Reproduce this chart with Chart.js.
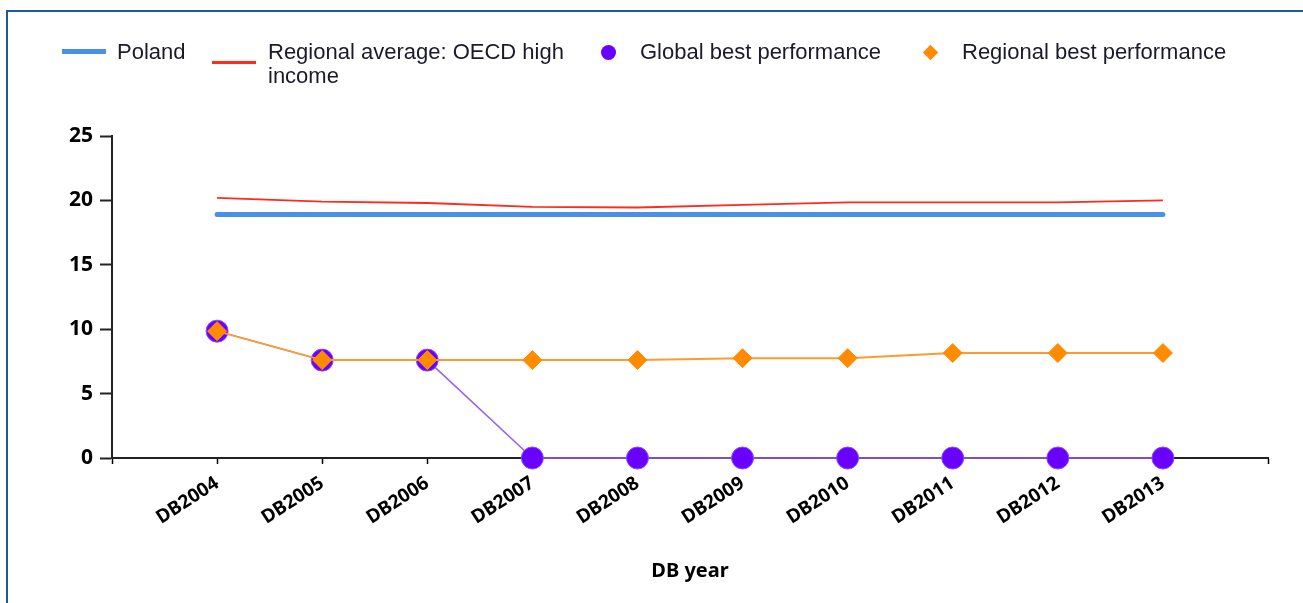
<!DOCTYPE html>
<html>
<head>
<meta charset="utf-8">
<script src="https://cdn.jsdelivr.net/npm/chart.js@4.4.1/dist/chart.umd.min.js"></script>
<style>
    html, body { margin: 0; padding: 0; background: #fff; overflow: hidden; }
    #wrap { position: relative; width: 1303px; height: 603px; }
    #frame { position: absolute; left: 6px; top: 10px; width: 1400px; height: 700px; border: 2px solid #1c5a9c; }
    #chart { position: absolute; left: 0; top: 0; }
    .lg { position: absolute; font-family: "Liberation Sans", Arial, sans-serif; font-size: 22px; line-height: 24px; color: #1a1a2a; }
    .sym { position: absolute; }
</style>
</head>
<body>
<div id="wrap">
    <div id="frame"></div>
    <canvas id="chart" width="1303" height="603"></canvas>
    <div id="legend"></div>
</div>
<script>
// Categories and series
const years = ["DB2004", "DB2005", "DB2006", "DB2007", "DB2008", "DB2009", "DB2010", "DB2011", "DB2012", "DB2013"];
const poland = [18.9, 18.9, 18.9, 18.9, 18.9, 18.9, 18.9, 18.9, 18.9, 18.9];
const regionalAverage = [20.2, 19.9, 19.8, 19.5, 19.45, 19.65, 19.85, 19.85, 19.85, 20.0];
const globalBest = [9.85, 7.6, 7.6, 0, 0, 0, 0, 0, 0, 0];
const regionalBest = [9.85, 7.6, 7.6, 7.6, 7.6, 7.75, 7.75, 8.15, 8.15, 8.15];
const yTicks = [0, 5, 10, 15, 20, 25];
const seriesNames = ["Poland", "Regional average: OECD high income", "Global best performance", "Regional best performance"];
const xTitle = "DB year";

const toPoints = arr => arr.map((v, i) => ({ x: i + 1, y: v }));

// Legend (HTML so the long label wraps like the original)
const legend = document.getElementById('legend');
legend.innerHTML = `
    <div class="sym" style="left:62px;top:49px;width:44px;height:5px;background:#4a8fe8;"></div>
    <div class="lg" style="left:117px;top:40px;">${seriesNames[0]}</div>
    <div class="sym" style="left:212px;top:61px;width:44px;height:3px;background:#ff2a1a;"></div>
    <div class="lg" style="left:268px;top:40px;width:310px;">${seriesNames[1]}</div>
    <div class="sym" style="left:601px;top:45px;width:15px;height:15px;border-radius:50%;background:#6a00ff;"></div>
    <div class="lg" style="left:640px;top:40px;">${seriesNames[2]}</div>
    <div class="sym" style="left:925px;top:47px;width:11px;height:11px;background:#ff8c00;transform:rotate(45deg);"></div>
    <div class="lg" style="left:962px;top:40px;">${seriesNames[3]}</div>
`;

const axisFont = { family: "'Noto Sans', sans-serif", weight: 'bold' };

new Chart(document.getElementById('chart'), {
    type: 'line',
    data: {
        datasets: [
            {
                label: seriesNames[0],
                data: toPoints(poland),
                borderColor: '#4a8fe8',
                borderWidth: 5,
                borderCapStyle: 'round',
                pointRadius: 0,
                order: 3,
                clip: false
            },
            {
                label: seriesNames[1],
                data: toPoints(regionalAverage),
                borderColor: '#ff2a1a',
                borderWidth: 1.8,
                pointRadius: 0,
                order: 2,
                clip: false
            },
            {
                label: seriesNames[2],
                data: toPoints(globalBest),
                borderColor: '#9461ff',
                borderWidth: 1.5,
                pointStyle: 'circle',
                pointRadius: 11,
                pointBackgroundColor: '#6a00ff',
                pointBorderColor: '#8a4dff',
                pointBorderWidth: 1,
                order: 1,
                clip: false
            },
            {
                label: seriesNames[3],
                data: toPoints(regionalBest),
                borderColor: '#ff9a2e',
                borderWidth: 2,
                pointStyle: 'rectRot',
                pointRadius: 9.5,
                pointBackgroundColor: '#ff8c00',
                pointBorderColor: '#ff8c00',
                pointBorderWidth: 1,
                order: 0,
                clip: false
            }
        ]
    },
    options: {
        responsive: false,
        devicePixelRatio: 1,
        animation: false,
        layout: { padding: { left: 0, right: 35, top: 136, bottom: 20 } },
        plugins: {
            legend: { display: false },
            tooltip: { enabled: false }
        },
        elements: { line: { tension: 0 } },
        scales: {
            x: {
                type: 'linear',
                min: 0,
                max: years.length + 1,
                z: 1,
                afterFit(scale) { scale.height = 125; },
                afterBuildTicks(scale) {
                    scale.ticks = Array.from({ length: years.length + 2 }, (_, i) => ({ value: i }));
                },
                ticks: {
                    autoSkip: false,
                    minRotation: 33,
                    maxRotation: 33,
                    padding: 8,
                    color: '#000',
                    font: { ...axisFont, size: 19 },
                    callback: v => years[v - 1] || ''
                },
                grid: { drawOnChartArea: false, tickLength: 6, color: '#000', tickWidth: 1.5 },
                border: { color: '#222', width: 2 },
                title: {
                    display: true,
                    text: xTitle,
                    color: '#000',
                    font: { ...axisFont, size: 20 },
                    padding: 0
                }
            },
            y: {
                min: 0,
                max: 25,
                afterFit(scale) { scale.width = 112; },
                afterBuildTicks(scale) {
                    scale.ticks = yTicks.map(v => ({ value: v }));
                },
                ticks: {
                    padding: 7,
                    color: '#000',
                    font: { ...axisFont, size: 21 }
                },
                grid: { drawOnChartArea: false, tickLength: 12, color: '#222', tickWidth: 2 },
                border: { color: '#222', width: 2 }
            }
        }
    }
});
</script>
</body>
</html>
